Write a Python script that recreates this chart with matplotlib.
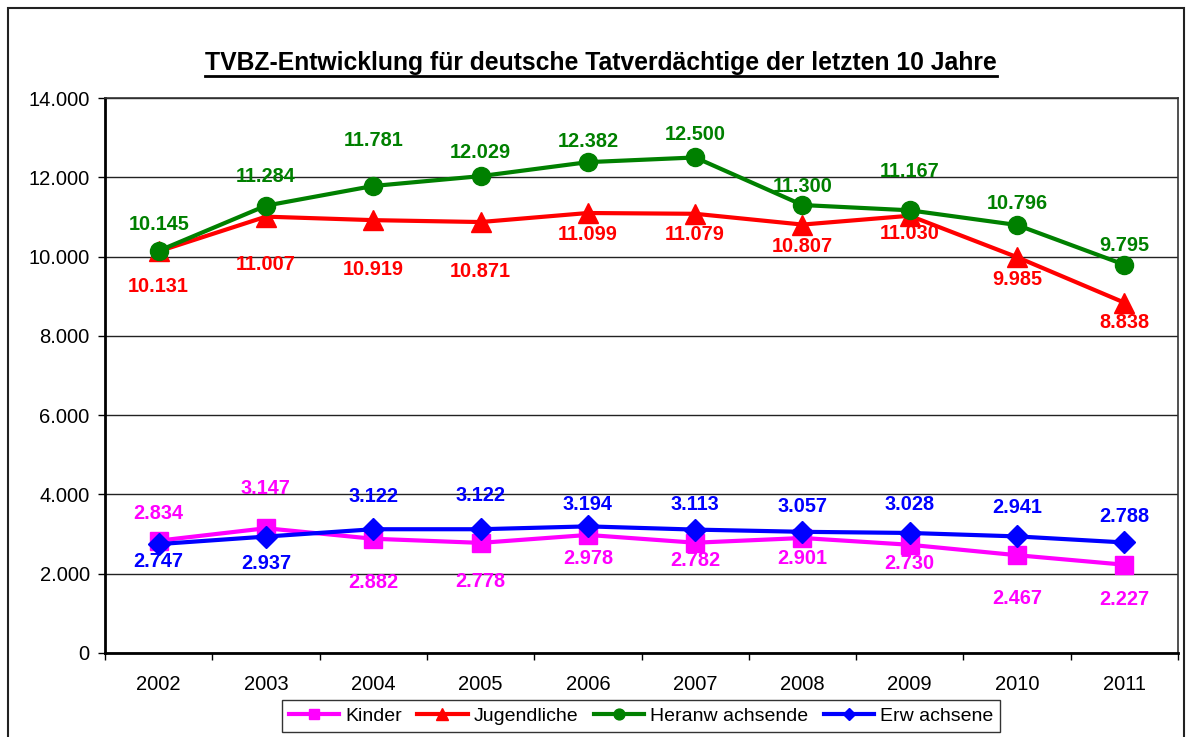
import matplotlib.pyplot as plt
import matplotlib.patches as patches
from matplotlib.lines import Line2D

plt.rcParams['font.family'] = ['Liberation Sans', 'DejaVu Sans']

# data
jahre = ['2002', '2003', '2004', '2005', '2006', '2007', '2008', '2009', '2010', '2011']
kinder = [2834, 3147, 2882, 2778, 2978, 2782, 2901, 2730, 2467, 2227]
jugendliche = [10131, 11007, 10919, 10871, 11099, 11079, 10807, 11030, 9985, 8838]
heranwachsende = [10145, 11284, 11781, 12029, 12382, 12500, 11300, 11167, 10796, 9795]
erwachsene = [2747, 2937, 3122, 3122, 3194, 3113, 3057, 3028, 2941, 2788]

# label offsets in pixels (negative = above the marker), as placed in the original
off_kinder = [-27, -40, 44, 39, 24, 18, 21, 19, 43, 35]
off_jugend = [35, 48, 49, 49, 21, 21, 22, 18, 22, 20]
off_heran = [-26, -29, -45, -24, -21, -23, -19, -39, -22, -19]
off_erw = [17, 27, -33, -34, -22, -25, -25, -28, -29, -26]

def fmt(v):
    return f'{v:,}'.replace(',', '.')

fig = plt.figure(figsize=(11.9, 7.37), dpi=100)
ax = fig.add_axes([105 / 1190, 1 - 653 / 737, (1178 - 105) / 1190, (653 - 98) / 737])

x = [i + 0.5 for i in range(len(jahre))]

series = [
    ('Kinder', kinder, '#FF00FF', 's', 13, off_kinder),
    ('Jugendliche', jugendliche, '#FF0000', '^', 15, off_jugend),
    ('Heranw achsende', heranwachsende, '#008000', 'o', 13, off_heran),
    ('Erw achsene', erwachsene, '#0000FF', 'D', 11, off_erw),
]

for name, vals, col, mk, ms, offs in series:
    ax.plot(x, vals, color=col, lw=3, marker=mk, markersize=ms, label=name, zorder=3)
    for xi, v, o in zip(x, vals, offs):
        ax.annotate(fmt(v), (xi, v), xytext=(0, -o), textcoords='offset pixels',
                    ha='center', va='center', fontsize=14.3, fontweight='bold', color=col,
                    zorder=4)

ax.set_xlim(0, len(jahre))
ax.set_ylim(0, 14000)
ax.set_yticks(range(0, 14001, 2000))
ax.set_yticklabels([fmt(v) for v in range(0, 14001, 2000)], fontsize=14.5)
ax.yaxis.grid(True, color='#222222', lw=1)
ax.set_axisbelow(True)

ax.set_xticks(range(0, len(jahre) + 1))
ax.set_xticklabels([])
ax.set_xticks(x, minor=True)
ax.set_xticklabels(jahre, minor=True, fontsize=14.5)
ax.tick_params(axis='x', which='major', direction='out', length=5, width=1)
ax.tick_params(axis='x', which='minor', length=0, pad=16)
ax.tick_params(axis='y', direction='out', length=5, width=1, pad=6)

for s in ['left', 'bottom']:
    ax.spines[s].set_linewidth(2)
for s in ['top', 'right']:
    ax.spines[s].set_linewidth(1.2)
    ax.spines[s].set_color('#333333')

leg = fig.legend(loc='center', bbox_to_anchor=(641 / 1190, 1 - 716 / 737), ncol=4,
                 fontsize=14, frameon=True, fancybox=False, edgecolor='black',
                 markerscale=0.6, handlelength=2.6, handletextpad=0.3,
                 columnspacing=0.8, borderpad=0.35)
leg.get_frame().set_linewidth(1)

title = fig.text(601 / 1190, 1 - 63 / 737,
                 'TVBZ-Entwicklung für deutsche Tatverdächtige der letzten 10 Jahre',
                 ha='center', va='center', fontsize=17.8, fontweight='bold')

# outer chart border
fig.patches.append(patches.Rectangle((8 / 1190, -0.01), (1184 - 8) / 1190, 1 - 8 / 737 + 0.01,
                                     transform=fig.transFigure, fill=False,
                                     edgecolor='#222222', lw=1.5))

# underline the title
fig.canvas.draw()
bb = title.get_window_extent().transformed(fig.transFigure.inverted())
fig.lines.append(Line2D([bb.x0, bb.x1], [bb.y0 - 0.001, bb.y0 - 0.001],
                        transform=fig.transFigure, color='black', lw=2))

fig.savefig('out.png', dpi=100)
